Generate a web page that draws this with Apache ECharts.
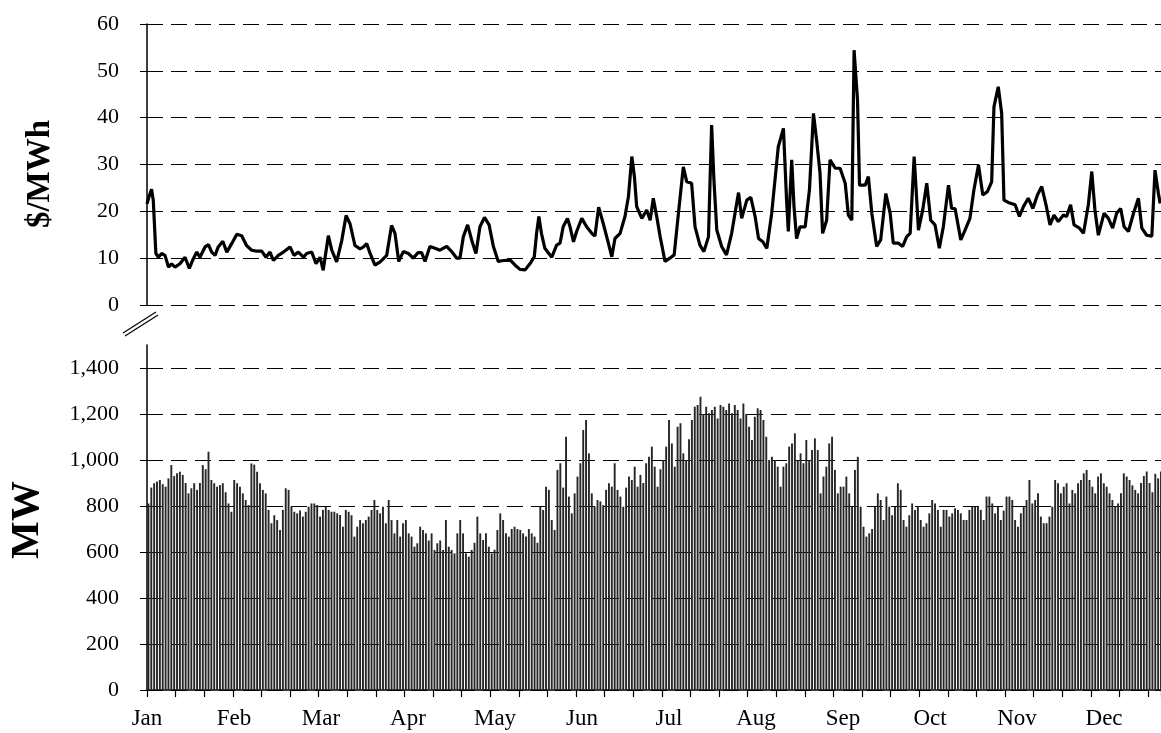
<!DOCTYPE html>
<html>
<head>
<meta charset="utf-8">
<title>Daily price and load</title>
<script src="https://cdn.jsdelivr.net/npm/echarts/dist/echarts.min.js"></script>
<style>
  html, body { margin: 0; padding: 0; background: #fff; }
  #chart { width: 1161px; height: 733px; }
</style>
</head>
<body>
<div id="chart"></div>
<script>
// month labels, one per 1/12 of the year
const months = ['Jan', 'Feb', 'Mar', 'Apr', 'May', 'Jun', 'Jul', 'Aug', 'Sep', 'Oct', 'Nov', 'Dec'];

// price line: day of year -> $/MWh
const priceDays = [
  0.0, 0.8, 1.6, 2.2, 3.1, 4.0, 5.1, 6.3, 7.5, 8.6, 9.8, 11.5, 13.3, 14.8, 16.2, 17.4, 18.5, 20.3,
  21.5, 22.6, 23.8, 24.9, 26.5, 27.9, 29.6, 31.4, 33.1, 34.8, 36.6, 38.3, 40.1, 41.6, 43.0, 44.2,
  45.9, 47.7, 50.0, 51.4, 52.9, 54.7, 55.8, 57.6, 59.1, 60.5, 61.6, 63.4, 64.6, 66.3, 68.1, 69.6,
  71.0, 72.7, 74.5, 75.7, 76.8, 78.0, 79.7, 81.5, 83.8, 85.5, 86.7, 88.0, 89.6, 91.4, 93.1, 94.8,
  96.0, 97.2, 98.9, 100.7, 102.4, 104.8, 106.5, 108.3, 109.4, 110.6, 112.1, 113.5, 115.0, 116.4,
  118.0, 119.6, 121.1, 122.8, 124.6, 127.0, 128.7, 130.4, 132.2, 134.0, 135.4, 136.2, 137.0, 137.9,
  139.1, 141.5, 143.2, 144.4, 145.5, 147.0, 147.9, 149.1, 150.2, 152.0, 153.7, 155.5, 156.6, 157.9,
  159.5, 161.3, 162.5, 163.6, 165.4, 167.1, 168.3, 169.5, 170.4, 171.2, 173.0, 174.7, 175.9, 177.0,
  178.2, 179.4, 181.1, 182.8, 184.3, 185.8, 187.5, 188.7, 190.4, 191.6, 193.3, 194.7, 196.3, 197.4,
  198.2, 199.2, 200.9, 202.6, 204.4, 206.8, 207.9, 209.7, 211.1, 212.6, 213.8, 215.3, 216.7, 218.4,
  220.7, 222.5, 223.6, 224.2, 225.4, 226.2, 227.1, 228.3, 230.1, 231.6, 233.0, 234.1, 235.3, 236.2,
  237.6, 238.8, 240.6, 242.3, 244.1, 245.2, 246.4, 247.2, 248.4, 249.1, 251.1, 252.2, 253.4, 255.1,
  256.5, 258.3, 259.8, 260.9, 262.7, 264.2, 265.6, 266.8, 268.2, 268.9, 269.7, 271.2, 272.6, 274.0,
  275.5, 277.0, 278.4, 280.2, 281.3, 282.5, 284.5, 286.0, 287.7, 289.1, 290.7, 292.2, 293.8, 295.3,
  296.1, 297.6, 298.8, 299.6, 301.1, 303.5, 305.0, 306.4, 308.1, 309.7, 311.3, 312.8, 314.3, 315.7,
  317.1, 318.6, 320.4, 321.5, 322.9, 324.1, 326.0, 327.4, 329.1, 330.3, 331.4, 332.6, 334.6, 336.1,
  337.6, 339.0, 340.4, 341.6, 343.1, 344.9, 346.6, 347.8, 349.5, 351.3, 352.4, 353.6, 354.2
];
const prices = [
  21.6, 23.3, 24.7, 22.3, 11.0, 10.2, 11.0, 10.6, 8.1, 8.8, 8.1, 8.8, 10.2, 7.8, 9.9, 11.3, 10.2, 12.4,
  12.9, 11.3, 10.6, 12.4, 13.6, 11.3, 13.1, 15.1, 14.8, 12.7, 11.7, 11.5, 11.5, 10.2, 11.3, 9.5,
  10.6, 11.3, 12.4, 10.6, 11.3, 10.2, 11.0, 11.3, 8.8, 10.2, 7.4, 14.8, 11.7, 9.2, 13.8, 19.1,
  17.3, 12.7, 12.0, 12.4, 13.1, 11.0, 8.5, 9.2, 10.6, 17.0, 15.3, 9.3, 11.4, 11.0, 10.0, 11.2,
  11.2, 9.3, 12.5, 12.1, 11.7, 12.5, 11.4, 10.0, 10.0, 14.6, 17.1, 13.9, 11.0, 16.7,
  18.7, 17.1, 12.5, 9.3, 9.5, 9.6, 8.5, 7.6, 7.5, 8.9, 10.3, 15.3, 18.9, 15.3,
  12.1, 10.2, 12.8, 13.2, 16.7, 18.5, 16.7, 13.5, 15.7, 18.5, 16.7, 15.3, 14.7, 20.9,
  17.4, 13.2, 10.3, 14.2, 15.3, 18.9, 23.1, 31.7, 27.4, 21.0, 18.5, 20.3, 18.1, 22.8,
  18.9, 14.6, 9.3, 10.0, 10.7, 19.6, 29.5, 26.3, 26.0, 16.7, 12.8, 11.4, 14.6, 38.4,
  26.7, 16.0, 12.5, 10.7, 15.3, 24.0, 18.5, 22.4, 23.0, 18.9, 14.2, 13.5, 12.1, 19.6,
  33.8, 37.7, 22.4, 15.7, 31.0, 21.0, 14.2, 16.7, 16.7, 24.6, 40.9, 35.2, 28.1, 15.3,
  18.1, 31.0, 29.2, 29.2, 26.0, 19.2, 18.1, 54.4, 43.8, 25.6, 25.6, 27.4, 19.6, 12.5,
  13.9, 23.8, 19.6, 13.2, 13.2, 12.5, 14.6, 15.3, 31.7, 24.6, 16.0, 20.3, 26.0, 18.1,
  17.1, 12.1, 16.7, 25.6, 20.6, 20.6, 13.9, 16.0, 18.5, 24.6, 29.9, 23.5, 24.2, 26.3,
  42.3, 46.6, 40.9, 22.4, 21.9, 21.4, 18.9, 21.0, 22.8, 20.6, 23.5, 25.3, 21.4, 17.1,
  19.2, 17.8, 19.2, 18.9, 21.4, 17.1, 16.4, 15.3, 21.4, 28.5, 20.3, 14.9, 19.6, 18.5,
  16.4, 19.6, 20.6, 16.7, 15.7, 19.6, 22.8, 16.4, 14.9, 14.7, 28.8, 23.8, 21.7
];

// daily peak load (MW), index = day of year
const loadMW = [
  811, 880, 899, 906, 913, 895, 884, 920, 978, 930,
  942, 949, 935, 900, 855, 877, 899, 870, 900, 978,
  960, 1036, 913, 899, 884, 891, 899, 860, 811, 775,
  913, 899, 884, 855, 826, 804, 985, 980, 949, 899,
  870, 855, 783, 725, 760, 739, 696, 783, 877, 870,
  797, 775, 768, 780, 754, 775, 797, 811, 811, 804,
  754, 783, 797, 783, 775, 775, 768, 761, 710, 783,
  775, 760, 667, 710, 739, 725, 739, 754, 783, 826,
  783, 768, 797, 725, 826, 739, 681, 739, 667, 725,
  739, 681, 667, 623, 638, 710, 696, 681, 650, 681,
  609, 638, 650, 609, 739, 623, 609, 594, 681, 739,
  681, 594, 580, 609, 640, 754, 681, 652, 681, 623,
  594, 610, 696, 768, 739, 681, 667, 700, 710, 700,
  696, 681, 667, 700, 681, 667, 640, 797, 783, 884,
  870, 739, 696, 957, 986, 880, 1101, 841, 768, 855,
  928, 986, 1130, 1174, 1029, 855, 797, 826, 820, 804,
  870, 899, 884, 986, 870, 841, 797, 880, 928, 913,
  971, 884, 935, 900, 986, 1014, 1058, 971, 884, 960,
  1000, 1058, 1174, 1072, 971, 1145, 1160, 1029, 1000, 1090,
  1174, 1232, 1239, 1275, 1200, 1232, 1203, 1217, 1232, 1180,
  1239, 1232, 1217, 1246, 1203, 1239, 1217, 1180, 1246, 1200,
  1145, 1087, 1188, 1225, 1217, 1174, 1101, 1000, 1014, 1000,
  971, 884, 971, 986, 1058, 1072, 1116, 1000, 1029, 986,
  1087, 1000, 1043, 1094, 1043, 855, 928, 971, 1072, 1101,
  957, 855, 884, 884, 928, 855, 797, 957, 1014, 797,
  710, 667, 681, 700, 797, 855, 826, 739, 841, 797,
  760, 797, 899, 870, 739, 710, 760, 811, 783, 797,
  739, 710, 725, 768, 826, 811, 783, 710, 783, 783,
  754, 768, 790, 783, 768, 739, 739, 783, 797, 797,
  797, 783, 739, 841, 841, 811, 768, 797, 739, 780,
  841, 841, 826, 739, 710, 768, 797, 826, 913, 811,
  826, 855, 754, 725, 725, 754, 797, 913, 899, 855,
  884, 899, 811, 870, 855, 899, 913, 942, 957, 913,
  884, 855, 928, 942, 899, 884, 855, 826, 797, 811,
  855, 942, 928, 913, 890, 870, 855, 900, 930, 950,
  900, 860, 940, 920, 950
];

// the picture is cut off on the right: only this much of the year is visible
const DAYS_SHOWN = 354.5;
const DAYS_PER_MONTH = 365 / 12;

const SERIF = '"Liberation Serif", "DejaVu Serif", serif';
const gridDash = { color: '#000', width: 1, type: [16, 8] };
const axisLine = { show: true, onZero: false, lineStyle: { color: '#000', width: 1.5 } };
const yLabel = { color: '#000', fontFamily: SERIF, fontSize: 22, margin: 28 };

const chart = echarts.init(document.getElementById('chart'), null, { renderer: 'canvas' });

chart.setOption({
  animation: false,
  backgroundColor: '#fff',
  grid: [
    { left: 147, top: 24, right: 0, height: 281 },
    { left: 147, top: 345, right: 0, height: 345 }
  ],
  xAxis: [
    { gridIndex: 0, type: 'value', min: 0, max: DAYS_SHOWN, interval: 10, show: false },
    {
      gridIndex: 1, type: 'value', min: 0, max: DAYS_SHOWN, interval: 10,
      axisLine: axisLine,
      axisTick: { show: true, length: 7, lineStyle: { color: '#000', width: 1.2 } },
      axisLabel: { show: false },
      splitLine: { show: false }
    },
    {
      gridIndex: 1, type: 'value', position: 'bottom', min: 0, max: DAYS_SHOWN / DAYS_PER_MONTH, interval: 1,
      axisLine: { show: false }, axisTick: { show: false }, splitLine: { show: false },
      axisLabel: {
        color: '#000', fontFamily: SERIF, fontSize: 23, margin: 17, showMaxLabel: false,
        formatter: v => months[Math.round(v)] || ''
      }
    }
  ],
  yAxis: [
    {
      gridIndex: 0, type: 'value', min: 0, max: 60, interval: 10,
      axisLine: axisLine,
      axisTick: { show: true, length: 7, lineStyle: { color: '#000' } },
      axisLabel: yLabel,
      splitLine: { show: true, lineStyle: gridDash }
    },
    {
      gridIndex: 1, type: 'value', min: 0, max: 1500, interval: 200,
      axisLine: axisLine,
      axisTick: { show: true, length: 7, lineStyle: { color: '#000' } },
      axisLabel: Object.assign({ showMaxLabel: false }, yLabel),
      splitLine: { show: true, showMaxLine: false, lineStyle: gridDash }
    }
  ],
  series: [
    {
      type: 'line', xAxisIndex: 0, yAxisIndex: 0,
      data: priceDays.map((d, i) => [d, prices[i]]),
      showSymbol: false, symbol: 'none',
      lineStyle: { color: '#000', width: 3.2 },
      z: 5
    },
    {
      type: 'bar', xAxisIndex: 1, yAxisIndex: 1,
      data: loadMW.map((v, i) => [i + 0.5, v]),
      barWidth: 1.9,
      itemStyle: { color: '#262626' },
      z: 3
    }
  ],
  graphic: [
    {
      type: 'text', x: 40, y: 174, rotation: Math.PI / 2,
      style: { text: '$/MWh', font: 'bold 33px ' + SERIF, fill: '#000', textAlign: 'center', textVerticalAlign: 'middle' }
    },
    {
      type: 'text', x: 28, y: 520, rotation: Math.PI / 2,
      style: { text: 'MW', font: 'bold 40px ' + SERIF, fill: '#000', textAlign: 'center', textVerticalAlign: 'middle' }
    },
    // axis break marks between the two panels
    { type: 'line', shape: { x1: 123, y1: 333, x2: 156, y2: 312 }, style: { stroke: '#000', lineWidth: 1.2 } },
    { type: 'line', shape: { x1: 125, y1: 336, x2: 158, y2: 315 }, style: { stroke: '#000', lineWidth: 1.2 } }
  ]
});
</script>
</body>
</html>
